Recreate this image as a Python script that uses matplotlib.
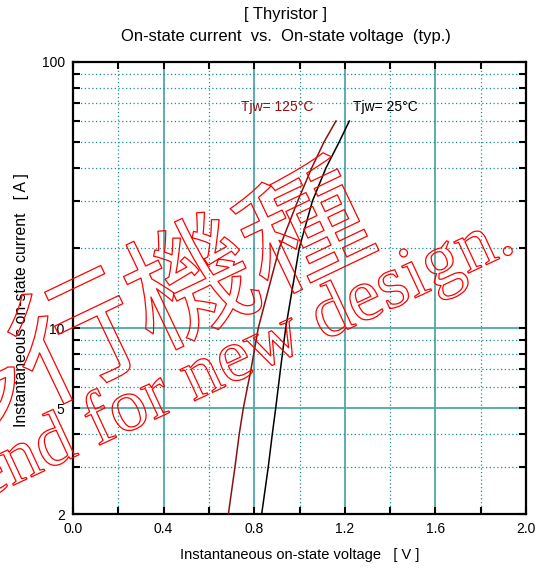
import matplotlib
matplotlib.use("Agg")
import matplotlib.pyplot as plt
import matplotlib.patheffects as pe
from matplotlib.ticker import FixedLocator, NullFormatter, FixedFormatter

plt.rcParams['font.family'] = ['Liberation Sans', 'DejaVu Sans']

current = [2, 3, 4, 5, 7, 10, 20, 30, 40, 50, 60]
v_125 = [0.686, 0.715, 0.734, 0.752, 0.786, 0.818, 0.911, 0.992, 1.054, 1.108, 1.161]
v_25 = [0.833, 0.862, 0.880, 0.895, 0.916, 0.939, 0.999, 1.057, 1.117, 1.175, 1.220]

x_ticks = [0.0, 0.4, 0.8, 1.2, 1.6, 2.0]
x_tick_labels = ["0.0", "0.4", "0.8", "1.2", "1.6", "2.0"]
x_minor = [0.2, 0.6, 1.0, 1.4, 1.8]
y_ticks = [2, 5, 10, 100]
y_tick_labels = ["2", "5", "10", "100"]
y_minor = [3, 4, 6, 7, 8, 9, 20, 30, 40, 50, 60, 70, 80, 90]

W, H = 536, 569
fig = plt.figure(figsize=(W/100, H/100), dpi=100)
ax = fig.add_axes([73/W, 1-514/H, (526-73)/W, (514-62)/H])
ax.set_yscale('log')
ax.set_xlim(0, 2.0)
ax.set_ylim(2, 100)

major_c = '#4fa8a8'
minor_c = '#1a9090'
for x in x_ticks[1:-1]:
    ax.axvline(x, color=major_c, lw=1.3, zorder=1)
for x in x_minor:
    ax.axvline(x, color=minor_c, lw=0.9, ls=(0, (1, 2)), zorder=1)
for y in [5, 10]:
    ax.axhline(y, color=major_c, lw=1.3, zorder=1)
for y in y_minor:
    ax.axhline(y, color=minor_c, lw=0.9, ls=(0, (1, 2)), zorder=1)

ax.plot(v_125, current, color='#8b1010', lw=1.1, zorder=3)
ax.plot(v_25, current, color='black', lw=1.1, zorder=3)

ax.text(0.742, 67.5, "Tjw= 125°C", color='#8b1010', fontsize=10, va='center', ha='left')
ax.text(1.236, 67.5, "Tjw= 25°C", color='black', fontsize=10, va='center', ha='left')

ax.xaxis.set_major_locator(FixedLocator(x_ticks))
ax.xaxis.set_major_formatter(FixedFormatter(x_tick_labels))
ax.xaxis.set_minor_locator(FixedLocator(x_minor))
ax.xaxis.set_minor_formatter(NullFormatter())
ax.yaxis.set_major_locator(FixedLocator(y_ticks))
ax.yaxis.set_major_formatter(FixedFormatter(y_tick_labels))
ax.yaxis.set_minor_locator(FixedLocator(y_minor))
ax.yaxis.set_minor_formatter(NullFormatter())
ax.tick_params(which='both', direction='in', length=5, width=1.5, top=True, right=True,
               labelsize=10, pad=6)
for s in ax.spines.values():
    s.set_linewidth(1.6)

fig.text(300/W, 1-555/H, "Instantaneous on-state voltage   [ V ]", fontsize=10.5,
         ha='center', va='center')
fig.text(21.5/W, 1-300.5/H, "Instantaneous on-state current   [ A ]", fontsize=11.3,
         ha='center', va='center', rotation=90)
fig.text(285.5/W, 1-15/H, "[ Thyristor ]", ha='center', va='center', fontsize=12)
fig.text(285.5/W, 1-37/H, "On-state current  vs.  On-state voltage  (typ.)", ha='center', va='center', fontsize=12)

# watermark
outline = [pe.Stroke(linewidth=0.9, foreground='red')]
fig.text(136/W, 1-318/H, "移行機種", family=['Noto Sans CJK JP'], fontsize=91,
         color='none', rotation=25.5, ha='center', va='center',
         rotation_mode='anchor', path_effects=outline, zorder=10)
fig.text(518/W, 1-250/H, "Not recommend for new design.", family=['Liberation Serif'],
         fontsize=54, color='none', rotation=25, ha='right', va='baseline',
         rotation_mode='anchor', path_effects=outline, zorder=10)

fig.savefig("out.png", dpi=100)
